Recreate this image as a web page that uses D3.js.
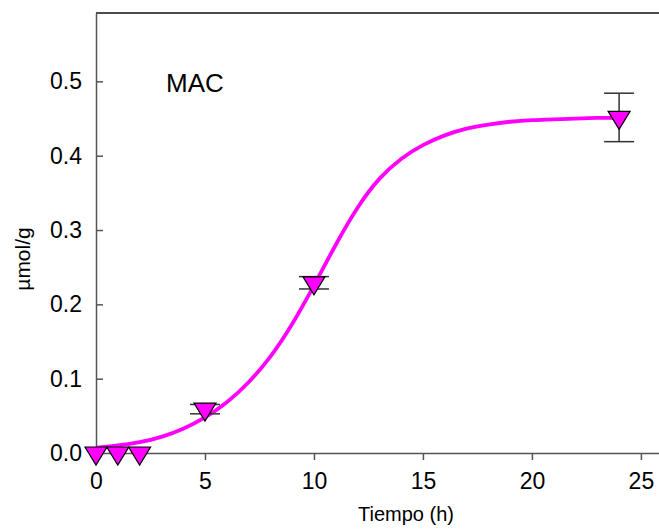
<!DOCTYPE html>
<html>
<head>
<meta charset="utf-8">
<script src="https://cdn.jsdelivr.net/npm/d3@7"></script>
<style>
  body { margin: 0; background: #fff; }
  text { font-family: "Liberation Sans", Arial, sans-serif; }
</style>
</head>
<body>
<svg id="chart" width="659" height="529"></svg>
<script>
  // measured points (Tiempo h, umol/g, error)
  var tiempo = [0, 1, 2, 5, 10, 24];
  var valores = [0, 0, 0, 0.059, 0.229, 0.4515];
  var errores = [0, 0, 0, 0.0063, 0.0083, 0.0326];

  // fitted curve
  var curvaX = [0, 1, 2, 3, 4, 5, 6, 7, 8, 9, 10, 11, 12, 13, 14, 15, 16, 17, 18, 19, 20, 21, 22, 23, 24];
  var curvaY = [0.007, 0.010, 0.014, 0.021, 0.032, 0.047, 0.067, 0.094, 0.128, 0.172, 0.225, 0.281, 0.332,
                0.371, 0.397, 0.415, 0.428, 0.437, 0.442, 0.446, 0.448, 0.449, 0.450, 0.451, 0.451];

  var xTicks = [0, 5, 10, 15, 20, 25];
  var yTicks = [0, 0.1, 0.2, 0.3, 0.4, 0.5];

  var svg = d3.select('#chart');

  var x = d3.scaleLinear().domain([0, 25.83]).range([96, 659]);
  var y = d3.scaleLinear().domain([0, 0.592]).range([453, 13]);

  // top frame line
  svg.append('line')
    .attr('x1', x(0)).attr('x2', x(25.83))
    .attr('y1', y(0.592)).attr('y2', y(0.592))
    .attr('stroke', '#111').attr('stroke-width', 1.5);

  // x axis
  var gx = svg.append('g')
    .attr('transform', 'translate(0,' + y(0) + ')')
    .call(d3.axisBottom(x).tickValues(xTicks).tickSize(7).tickSizeOuter(0).tickPadding(13));
  gx.select('.domain').attr('stroke', '#555').attr('stroke-width', 1.5);
  gx.selectAll('.tick line').attr('stroke', '#555').attr('stroke-width', 1.5);
  gx.selectAll('text').attr('font-size', 23).attr('fill', '#000')
    .style('font-family', '"Liberation Sans", Arial, sans-serif');

  // y axis, ticks point inward
  var gy = svg.append('g')
    .attr('transform', 'translate(' + x(0) + ',0)')
    .call(d3.axisLeft(y).tickValues(yTicks).tickFormat(d3.format('.1f')).tickSize(-7).tickSizeOuter(0).tickPadding(14));
  gy.select('.domain').attr('stroke', '#555').attr('stroke-width', 1.5);
  gy.selectAll('.tick line').attr('stroke', '#555').attr('stroke-width', 1.5);
  gy.selectAll('text').attr('font-size', 23).attr('fill', '#000')
    .style('font-family', '"Liberation Sans", Arial, sans-serif');

  // axis titles
  svg.append('text')
    .attr('x', 406).attr('y', 521)
    .attr('text-anchor', 'middle')
    .attr('font-size', 20)
    .text('Tiempo (h)');

  svg.append('text')
    .attr('transform', 'translate(30,259) rotate(-90)')
    .attr('text-anchor', 'middle')
    .attr('font-size', 21)
    .text('µmol/g');

  svg.append('text')
    .attr('x', 166).attr('y', 92)
    .attr('font-size', 26)
    .text('MAC');

  // curve
  var curva = curvaX.map(function (d, i) { return [d, curvaY[i]]; });
  var line = d3.line()
    .x(function (d) { return x(d[0]); })
    .y(function (d) { return y(d[1]); })
    .curve(d3.curveBasis);

  svg.append('path')
    .datum(curva)
    .attr('d', line)
    .attr('fill', 'none')
    .attr('stroke', '#ff00ff')
    .attr('stroke-width', 3.8);

  var puntos = tiempo.map(function (d, i) {
    return { t: d, v: valores[i], e: errores[i] };
  });

  // error bars
  var eb = svg.append('g').attr('stroke', '#333').attr('stroke-width', 1.5);
  puntos.filter(function (d) { return d.e > 0; }).forEach(function (d) {
    var cx = x(d.t), top = y(d.v + d.e), bot = y(d.v - d.e);
    eb.append('line').attr('x1', cx).attr('x2', cx).attr('y1', top).attr('y2', bot);
    eb.append('line').attr('x1', cx - 15).attr('x2', cx + 15).attr('y1', top).attr('y2', top);
    eb.append('line').attr('x1', cx - 15).attr('x2', cx + 15).attr('y1', bot).attr('y2', bot);
  });

  // down triangles, centroid on the value
  svg.append('g').selectAll('path')
    .data(puntos)
    .enter()
    .append('path')
    .attr('transform', function (d) { return 'translate(' + x(d.t) + ',' + y(d.v) + ')'; })
    .attr('d', 'M-11,-6L11,-6L0,12Z')
    .attr('fill', '#ff00ff')
    .attr('stroke', '#000')
    .attr('stroke-width', 1.2)
    .attr('stroke-linejoin', 'miter');
</script>
</body>
</html>
